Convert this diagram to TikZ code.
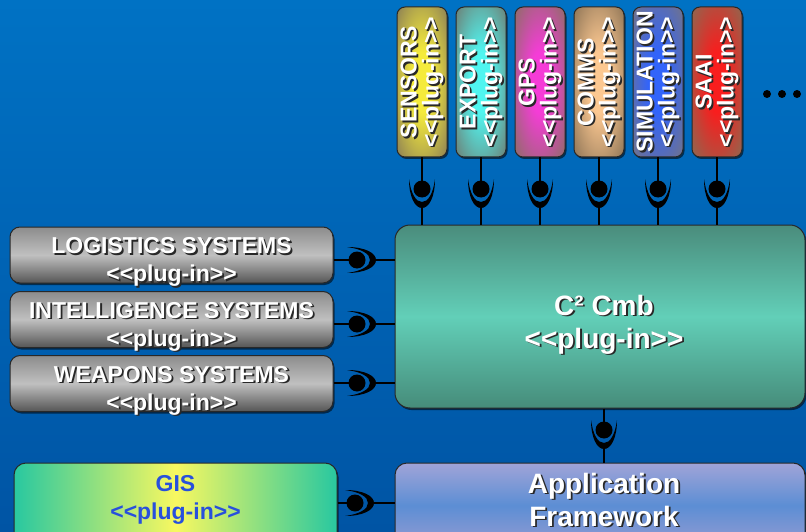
\documentclass[tikz,border=0pt]{standalone}
\usepackage{fontspec}
\setmainfont{Liberation Sans}
\usetikzlibrary{shadows}
\definecolor{bgtop}{RGB}{0,114,196}
\definecolor{bgbot}{RGB}{0,84,164}
\definecolor{boxline}{RGB}{40,40,40}
\definecolor{shadowc}{RGB}{40,40,40}
\definecolor{grayA}{RGB}{140,140,140}
\definecolor{grayB}{RGB}{192,192,192}
\definecolor{grayC}{RGB}{85,85,85}
\definecolor{tealA}{RGB}{74,140,124}
\definecolor{tealB}{RGB}{98,207,184}
\definecolor{tealC}{RGB}{70,140,122}
\definecolor{appA}{RGB}{160,164,216}
\definecolor{appB}{RGB}{92,142,212}
\definecolor{appC}{RGB}{150,156,210}
\definecolor{gisA}{RGB}{40,200,160}
\definecolor{gisB}{RGB}{248,248,96}
\definecolor{gistext}{RGB}{40,80,220}
\definecolor{sensIn}{RGB}{245,235,60}\definecolor{sensOut}{RGB}{138,125,85}
\definecolor{expIn}{RGB}{80,245,240}\definecolor{expOut}{RGB}{110,125,115}
\definecolor{gpsIn}{RGB}{245,60,215}\definecolor{gpsOut}{RGB}{140,110,100}
\definecolor{comIn}{RGB}{252,200,145}\definecolor{comOut}{RGB}{140,115,85}
\definecolor{simIn}{RGB}{50,100,250}\definecolor{simOut}{RGB}{115,115,135}
\definecolor{saaIn}{RGB}{248,30,30}\definecolor{saaOut}{RGB}{140,105,80}
\colorlet{glowin}{yellow}
\colorlet{glowout}{gray}
\pgfdeclareradialshading[glowin,glowout]{glow}{\pgfpoint{0bp}{0bp}}{%
  color(0bp)=(glowin); color(10bp)=(glowin); color(36bp)=(glowout); color(50bp)=(glowout)}
\newcommand\shlabel[4]{%
  \node[xshift=1.8pt,yshift=-1.8pt,#3,text=shadowc] (#1s) at #2 {#4};
  \node[#3,text=white] (#1) at #2 {#4};}
\begin{document}
\begin{tikzpicture}[x=1pt,y=-1pt,
  box/.style={draw=boxline,line width=1pt,inner sep=0pt,
    drop shadow={shadow xshift=1.5pt,shadow yshift=-2pt,fill=black,opacity=0.55}},
  topbox/.style 2 args={box,rounded corners=8pt,minimum width=50pt,minimum height=150pt,
    /utils/exec={\colorlet{glowin}{#1}\colorlet{glowout}{#2}},shade,shading=glow},
  sidebox/.style={box,rounded corners=10pt,minimum width=323pt,minimum height=56pt,
    top color=grayA,bottom color=grayC,middle color=grayB},
  txt/.style={font=\bfseries\fontsize{23}{28}\selectfont,align=center,inner sep=0pt},
  toptxt/.style={font=\bfseries\fontsize{23}{22}\selectfont,align=center,inner sep=0pt,rotate=90},
  bigtxt/.style={font=\bfseries\fontsize{28}{33}\selectfont,align=center,inner sep=0pt},
  ball/.style={circle,fill=black,minimum size=17pt,inner sep=0pt},
  dot/.style={circle,fill=black,minimum size=8pt,inner sep=0pt},
  wire/.style={line width=2pt,black},
  cupv/.pic={\fill[black] (-13,-10) .. controls (-13,8) and (-7,19) .. (0,19)
      .. controls (7,19) and (13,8) .. (13,-10)
      .. controls (11,5) and (6,13) .. (0,13)
      .. controls (-6,13) and (-11,5) .. (-13,-10) -- cycle;},
  cuph/.pic={\fill[black] (-10,-13) .. controls (8,-13) and (19,-7) .. (19,0)
      .. controls (19,7) and (8,13) .. (-10,13)
      .. controls (5,11) and (13,6) .. (13,0)
      .. controls (13,-6) and (5,-11) .. (-10,-13) -- cycle;}
]
\useasboundingbox (0,0) rectangle (806,532);
\clip (0,0) rectangle (806,532);
\shade[top color=bgtop,bottom color=bgbot] (0,0) rectangle (806,532);

% top plug-ins
\node[topbox={sensIn}{sensOut}] (sens) at (422,82) {};
\node[topbox={expIn}{expOut}]   (exp)  at (481,82) {};
\node[topbox={gpsIn}{gpsOut}]   (gps)  at (540,82) {};
\node[topbox={comIn}{comOut}]   (com)  at (599,82) {};
\node[topbox={simIn}{simOut}]   (sim)  at (658,82) {};
\node[topbox={saaIn}{saaOut}]   (saa)  at (717,82) {};
\shlabel{tsens}{(sens.center)}{toptxt}{SENSORS\\<{}<plug-in>{}>}
\shlabel{texp}{(exp.center)}{toptxt}{EXPORT\\<{}<plug-in>{}>}
\shlabel{tgps}{(gps.center)}{toptxt}{GPS\\<{}<plug-in>{}>}
\shlabel{tcom}{(com.center)}{toptxt}{COMMS\\<{}<plug-in>{}>}
\shlabel{tsim}{(sim.center)}{toptxt}{SIMULATION\\<{}<plug-in>{}>}
\shlabel{tsaa}{(saa.center)}{toptxt}{SAAI\\<{}<plug-in>{}>}
\node[dot] (d1) at (767,94) {};
\node[dot] (d2) at (782,94) {};
\node[dot] (d3) at (797,94) {};

% central box
\node[box,rounded corners=15pt,minimum width=410pt,minimum height=183pt,
  top color=tealA,bottom color=tealC,middle color=tealB] (c2) at (600,316.5) {};
\shlabel{tc2}{([shift={(4,8)}]c2.center)}{bigtxt}{C² Cmb\\<{}<plug-in>{}>}

% side plug-ins
\node[sidebox] (log) at (171.5,255) {};
\node[sidebox] (int) at (171.5,319.5) {};
\node[sidebox] (wea) at (171.5,383.5) {};
\shlabel{tlog}{([shift={(0,7)}]log.center)}{txt}{LOGISTICS SYSTEMS\\<{}<plug-in>{}>}
\shlabel{tint}{([shift={(0,7)}]int.center)}{txt}{INTELLIGENCE SYSTEMS\\<{}<plug-in>{}>}
\shlabel{twea}{([shift={(0,7)}]wea.center)}{txt}{WEAPONS SYSTEMS\\<{}<plug-in>{}>}

% bottom row
\node[box,rounded corners=12pt,minimum width=323pt,minimum height=85pt,
  left color=gisA,right color=gisA,middle color=gisB] (gis) at (175.5,505.5) {};
\node[txt,text=gistext] (tgis) at ([shift={(0,-6)}]gis.center) {GIS\\<{}<plug-in>{}>};
\node[box,rounded corners=12pt,minimum width=410pt,minimum height=85pt,
  top color=appA,bottom color=appC,middle color=appB] (app) at (600,505.5) {};
\shlabel{tapp}{([shift={(4,-6)}]app.center)}{bigtxt}{Application\\Framework}

% connectors: top plug-ins
\foreach \b in {sens,exp,gps,com,sim,saa}{
  \node[ball] (b\b) at (\b.south |- 0,189) {};
  \draw[wire] (\b.south) -- (b\b.center);
  \draw[wire] ([shift={(0,18)}]b\b.center) -- (b\b |- c2.north);
  \pic at (b\b) {cupv};
}
% connectors: side plug-ins
\node[ball] (blog) at (357,260) {};
\node[ball] (bint) at (357,324) {};
\node[ball] (bwea) at (357,383) {};
\foreach \b in {log,int,wea}{
  \draw[wire] (b\b -| \b.east) -- (b\b.center);
  \draw[wire] ([shift={(18,0)}]b\b.center) -- (b\b -| c2.west);
  \pic at (b\b) {cuph};
}
% GIS to framework
\node[ball] (bgis) at (355,503) {};
\draw[wire] (bgis -| gis.east) -- (bgis.center);
\draw[wire] ([shift={(18,0)}]bgis.center) -- (bgis -| app.west);
\pic at (bgis) {cuph};
% C2 to framework
\node[ball] (bapp) at (604,430) {};
\draw[wire] (bapp |- c2.south) -- (bapp.center);
\draw[wire] ([shift={(0,18)}]bapp.center) -- (bapp |- app.north);
\pic at (bapp) {cupv};
\end{tikzpicture}
\end{document}
